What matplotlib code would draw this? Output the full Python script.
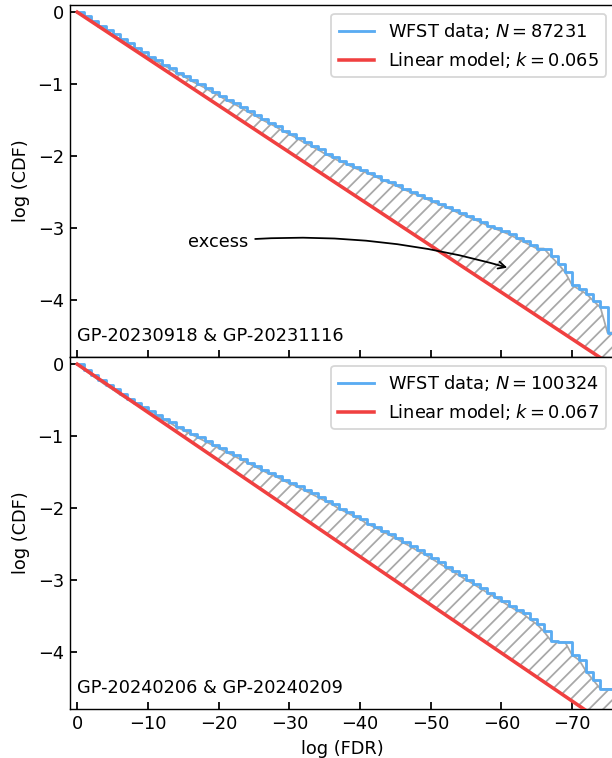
import numpy as np
import matplotlib
matplotlib.use("Agg")
import matplotlib.pyplot as plt

# log(FDR) bins (same for both panels)
log_fdr = np.arange(0, -77, -1)

# panel 1: GP-20230918 & GP-20231116
cdf_top = [0.00, -0.06, -0.12, -0.19, -0.25, -0.31, -0.37, -0.43, -0.50, -0.56,
           -0.62, -0.67, -0.73, -0.78, -0.84, -0.89, -0.95, -1.00, -1.05, -1.11,
           -1.16, -1.22, -1.27, -1.32, -1.38, -1.43, -1.49, -1.54, -1.59, -1.65,
           -1.70, -1.75, -1.81, -1.86, -1.91, -1.97, -2.02, -2.07, -2.11, -2.16,
           -2.20, -2.24, -2.28, -2.33, -2.37, -2.41, -2.46, -2.50, -2.54, -2.58,
           -2.63, -2.67, -2.71, -2.75, -2.80, -2.84, -2.88, -2.92, -2.97, -3.01,
           -3.05, -3.09, -3.14, -3.19, -3.24, -3.29, -3.29, -3.40, -3.50, -3.62,
           -3.80, -3.86, -3.92, -4.02, -4.11, -4.46, -4.46]

# panel 2: GP-20240206 & GP-20240209
cdf_bot = [0.00, -0.08, -0.15, -0.22, -0.29, -0.35, -0.42, -0.48, -0.54, -0.60,
           -0.65, -0.71, -0.76, -0.81, -0.87, -0.92, -0.97, -1.02, -1.07, -1.12,
           -1.17, -1.22, -1.27, -1.32, -1.37, -1.42, -1.47, -1.52, -1.56, -1.61,
           -1.66, -1.70, -1.75, -1.80, -1.85, -1.90, -1.95, -2.01, -2.06, -2.11,
           -2.16, -2.22, -2.27, -2.32, -2.37, -2.42, -2.48, -2.53, -2.59, -2.64,
           -2.70, -2.76, -2.82, -2.88, -2.94, -3.00, -3.06, -3.12, -3.18, -3.24,
           -3.30, -3.36, -3.42, -3.47, -3.55, -3.62, -3.72, -3.85, -3.87, -3.87,
           -4.05, -4.12, -4.28, -4.40, -4.52, -4.52, -4.52]

slopes = [0.065, 0.067]
counts = [87231, 100324]
labels = ["GP-20230918 & GP-20231116", "GP-20240206 & GP-20240209"]

blue = "#5aacf2"
red = "#f04040"
hatch_gray = "#a8a8a8"

plt.rcParams["font.size"] = 10
plt.rcParams["hatch.linewidth"] = 1.0

W, H = 612, 758
dpi = 127.5
fig = plt.figure(figsize=(W / dpi, H / dpi), dpi=dpi)

left, right = 70 / W, 615 / W
ax_h = 352 / H
ax1 = fig.add_axes([left, 1 - 357 / H, right - left, ax_h])
ax2 = fig.add_axes([left, 1 - 709 / H, right - left, ax_h], sharex=ax1)

for ax, cdf, k, n, lab in zip([ax1, ax2], [cdf_top, cdf_bot], slopes, counts, labels):
    cdf = np.array(cdf)
    model = k * log_fdr
    ax.fill_between(log_fdr, cdf, model, facecolor="none", edgecolor=hatch_gray,
                    hatch="///", linewidth=1.0, zorder=1)
    ax.step(log_fdr, cdf, where="post", color=blue, lw=1.6, zorder=2,
            label=rf"WFST data; $N = {n}$")
    ax.plot(log_fdr, model, color=red, lw=2.0, zorder=3,
            label=rf"Linear model; $k = {k}$")
    ax.set_ylim(-4.8, 0.1)
    ax.set_yticks([0, -1, -2, -3, -4])
    ax.set_ylabel("log (CDF)")
    ax.tick_params(direction="in", length=4, width=1)
    ax.legend(loc="upper right", fontsize=10)
    ax.text(0.013, 0.033, lab, transform=ax.transAxes, ha="left", va="bottom")

ax1.set_xlim(1.03, -76.06)
ax1.set_xticks([0, -10, -20, -30, -40, -50, -60, -70])
ax1.tick_params(labelbottom=False)
ax2.set_xlabel("log (FDR)")

ax1.annotate("excess", xy=(-61.3, -3.57), xytext=(-19.9, -3.2),
             ha="center", va="center",
             arrowprops=dict(arrowstyle="->", color="k", lw=1.0,
                             connectionstyle="arc3,rad=-0.1"))

fig.savefig("out.png", dpi=dpi)
